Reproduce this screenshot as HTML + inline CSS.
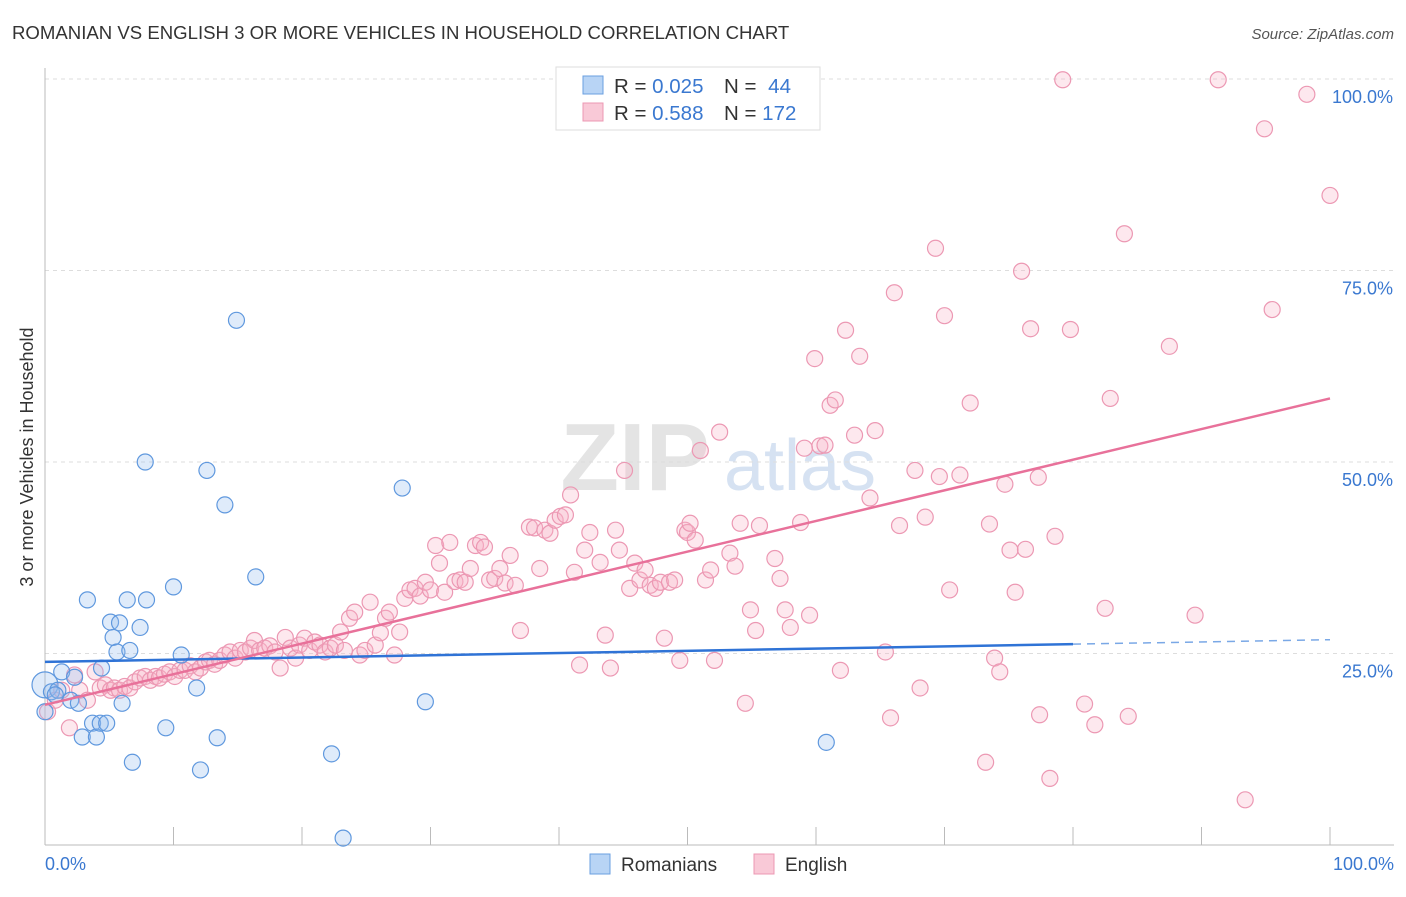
<!DOCTYPE html>
<html><head><meta charset="utf-8">
<style>
body{margin:0;background:#fff;font-family:"Liberation Sans",sans-serif;}
svg text{font-family:"Liberation Sans",sans-serif;}
</style></head>
<body>
<svg id="chart" width="1406" height="892" viewBox="0 0 1406 892" xmlns="http://www.w3.org/2000/svg">
<text x="12" y="39" font-size="18.6" fill="#333">ROMANIAN VS ENGLISH 3 OR MORE VEHICLES IN HOUSEHOLD CORRELATION CHART</text>
<text x="1394" y="39" font-size="15" fill="#555" font-style="italic" text-anchor="end">Source: ZipAtlas.com</text>
<g>
<text x="635" y="490" font-size="96" fill="#e4e4e4" font-family="Liberation Serif" text-anchor="middle" font-weight="bold">ZIP</text>
<text x="800" y="490" font-size="72" fill="#d6e2f2" text-anchor="middle">atlas</text>
</g>
<g id="grid"></g>
<g id="axes"></g>
<g id="pts"></g>
<g id="trends"></g>
<text x="33" y="457" font-size="18" fill="#333" text-anchor="middle" transform="rotate(-90 33 457)">3 or more Vehicles in Household</text>
<g>
<rect x="556" y="67" width="264" height="63" fill="#fff" stroke="#ddd"/>
<rect x="583" y="76" width="20" height="18" fill="#b8d4f5" stroke="#6a9fe0"/>
<rect x="583" y="103" width="20" height="18" fill="#f9c9d7" stroke="#ec98b3"/>
<text x="614" y="93" font-size="20.5" fill="#333">R = <tspan fill="#3a78d0">0.025</tspan></text>
<text x="724" y="93" font-size="20.5" fill="#333">N = <tspan fill="#3a78d0" dx="6">44</tspan></text>
<text x="614" y="120" font-size="20.5" fill="#333">R = <tspan fill="#3a78d0">0.588</tspan></text>
<text x="724" y="120" font-size="20.5" fill="#333">N = <tspan fill="#3a78d0">172</tspan></text>
</g>
<g>
<rect x="590" y="854" width="20" height="20" fill="#b8d4f5" stroke="#6a9fe0"/>
<text x="621" y="871" font-size="19" fill="#333">Romanians</text>
<rect x="754" y="854" width="20" height="20" fill="#f9c9d7" stroke="#ec98b3"/>
<text x="785" y="871" font-size="19" fill="#333">English</text>
</g>
</svg>
<script>
const xTicks=[0,10,20,30,40,50,60,70,80,90,100];
const yTicks=[25,50,75,100];
const yTickLabels=["25.0%","50.0%","75.0%","100.0%"];
const romX=[0,0.5,1.0,1.3,2.0,2.3,2.6,2.9,3.3,3.7,4.0,4.3,4.4,4.8,5.1,5.3,5.6,5.8,6.0,6.4,6.6,6.8,7.4,7.8,7.9,9.4,10.0,10.6,11.8,12.1,12.6,13.4,14.0,14.9,16.4,22.3,23.2,27.8,29.6,60.8,0,0.8];
const romY=[20.9,20.0,20.2,22.6,18.9,21.9,18.5,14.1,32.0,15.9,14.1,15.9,23.1,15.9,29.1,27.1,25.2,29.0,18.5,32.0,25.4,10.8,28.4,50.0,32.0,15.3,33.7,24.8,20.5,9.8,48.9,14.0,44.4,68.5,35.0,11.9,0.9,46.6,18.7,13.4,17.4,19.6];
const engX=[0.2,0.8,1.3,1.9,2.3,2.7,3.3,3.9,4.3,4.7,5.1,5.4,5.8,6.2,6.6,7.0,7.4,7.8,8.2,8.6,8.9,9.3,9.7,10.1,10.5,10.9,11.3,11.7,12.1,12.5,12.8,13.2,13.6,14.0,14.4,14.8,15.2,15.6,16.0,16.3,16.7,17.1,17.5,17.9,18.3,18.7,19.1,19.5,19.8,20.2,20.6,21.0,21.4,21.8,22.2,22.6,23.0,23.3,23.7,24.1,24.5,24.9,25.3,25.7,26.1,26.5,26.8,27.2,27.6,28.0,28.4,28.8,29.2,29.6,30.0,30.4,30.7,31.1,31.5,31.9,32.3,32.7,33.1,33.5,33.9,34.2,34.6,35.0,35.4,35.8,36.2,36.6,37.0,37.7,38.1,38.5,38.9,39.3,39.7,40.1,40.5,40.9,41.2,41.6,42.0,42.4,43.2,43.6,44.0,44.4,44.7,45.1,45.5,45.9,46.3,46.7,47.1,47.5,47.9,48.2,48.6,49.0,49.4,49.8,50.0,50.2,50.6,51.0,51.4,51.8,52.1,52.5,53.3,53.7,54.1,54.5,54.9,55.3,55.6,56.8,57.2,57.6,58.0,58.8,59.1,59.5,59.9,60.3,60.7,61.1,61.5,61.9,62.3,63.0,63.4,64.2,64.6,65.4,65.8,66.1,66.5,67.7,68.1,68.5,69.3,69.6,70.0,70.4,71.2,72.0,73.2,73.5,73.9,74.3,74.7,75.1,75.5,76.0,76.3,76.7,77.4,77.3,78.2,78.6,79.2,79.8,80.9,81.7,82.5,82.9,84.0,84.3,87.5,89.5,91.3,93.4,94.9,95.5,98.2,100];
const engY=[17.4,18.9,20.2,15.3,22.2,20.2,18.9,22.6,20.5,20.9,20.2,20.5,20.2,20.7,20.5,21.3,21.8,22.0,21.5,22.0,21.8,22.3,22.6,22.0,22.8,22.8,23.4,22.6,23.1,23.9,24.1,23.6,24.1,24.8,25.2,24.4,25.4,25.2,25.7,26.7,25.4,25.7,26.0,25.2,23.1,27.1,25.7,24.4,26.1,27.0,25.4,26.5,26.1,25.2,25.7,26.1,27.8,25.4,29.6,30.4,24.8,25.4,31.7,26.1,27.7,29.6,30.4,24.8,27.8,32.2,33.3,33.5,32.5,34.3,33.3,39.1,36.8,33.0,39.5,34.4,34.6,34.3,36.1,39.1,39.5,38.9,34.6,34.8,36.1,34.2,37.8,33.9,28.0,41.5,41.4,36.1,41.1,40.7,42.4,42.9,43.1,45.7,35.6,23.5,38.5,40.8,36.9,27.4,23.1,41.1,38.5,48.9,33.5,36.8,34.6,35.9,33.9,33.5,34.3,27.0,34.3,34.6,24.1,41.1,40.8,42.0,39.8,51.5,34.6,35.9,24.1,53.9,38.1,36.4,42.0,18.5,30.7,28.0,41.7,37.4,34.8,30.7,28.4,42.1,51.8,30.0,63.5,52.1,52.2,57.4,58.1,22.8,67.2,53.5,63.8,45.3,54.1,25.2,16.6,72.1,41.7,48.9,20.5,42.8,77.9,48.1,69.1,33.3,48.3,57.7,10.8,41.9,24.4,22.6,47.1,38.5,33.0,74.9,38.6,67.4,17.0,48.0,8.7,40.3,99.9,67.3,18.4,15.7,30.9,58.3,79.8,16.8,65.1,30.0,99.9,5.9,93.5,69.9,98.0,84.8];
const romTrend=[23.9,26.8];
const engTrend=[18.3,58.3];

const NS="http://www.w3.org/2000/svg";
const X0=45,X1=1330,Y0=845,Y100=79;
function sx(v){return X0+(X1-X0)*v/100;}
function sy(v){return Y0-(Y0-Y100)*v/100;}
function mk(tag,attrs,parent){const e=document.createElementNS(NS,tag);for(const k in attrs)e.setAttribute(k,attrs[k]);parent.appendChild(e);return e;}
const grid=document.getElementById('grid'),axes=document.getElementById('axes'),pts=document.getElementById('pts'),tr=document.getElementById('trends');
yTicks.forEach((t,i)=>{
  const l=mk('line',{x1:45,x2:1394,y1:sy(t),y2:sy(t),stroke:'#ddd','stroke-dasharray':'4 4'},grid);
  
  
  const tx=mk('text',{x:1393,y:sy(t)+24,'font-size':18,fill:'#3a78d0','text-anchor':'end'},axes);
  tx.textContent=yTickLabels[i];
  
  
});
const ax=mk('line',{x1:45,x2:1394,y1:845,y2:845,stroke:'#bbb'},axes);


const ay=mk('line',{x1:45,x2:45,y1:68,y2:845,stroke:'#bbb'},axes);


xTicks.forEach(t=>{
  const l=mk('line',{x1:sx(t),x2:sx(t),y1:827,y2:845,stroke:'#bbb'},axes);
  
  
});
[[0,'0.0%','start',45],[100,'100.0%','end',1394]].forEach(a=>{
  const t=mk('text',{x:a[3],y:870,'font-size':18,fill:'#3a78d0','text-anchor':a[2]},axes);
  t.textContent=a[1];
  
  
});
engX.forEach((v,i)=>{
  const c=mk('circle',{cx:sx(v),cy:sy(engY[i]),r:8,fill:'rgba(248,180,200,0.3)',stroke:'#ec98b3','stroke-width':1.2},pts);
  
  
});
romX.forEach((v,i)=>{
  const c=mk('circle',{cx:sx(v),cy:sy(romY[i]),r:i===0?13:8,fill:'rgba(150,190,240,0.3)',stroke:'#5f98de','stroke-width':1.2},pts);
  
  
});
const rl=mk('line',{x1:sx(0),y1:sy(romTrend[0]),x2:sx(80),y2:sy(romTrend[0]+(romTrend[1]-romTrend[0])*0.8),stroke:'#2f73d6','stroke-width':2.5},tr);


const rd=mk('line',{x1:sx(80),y1:sy(romTrend[0]+(romTrend[1]-romTrend[0])*0.8),x2:sx(100),y2:sy(romTrend[1]),stroke:'#7aa8e6','stroke-width':1.5,'stroke-dasharray':'8 6'},tr);


const el=mk('line',{x1:sx(0),y1:sy(engTrend[0]),x2:sx(100),y2:sy(engTrend[1]),stroke:'#e8719a','stroke-width':2.5},tr);


</script>
</body></html>
